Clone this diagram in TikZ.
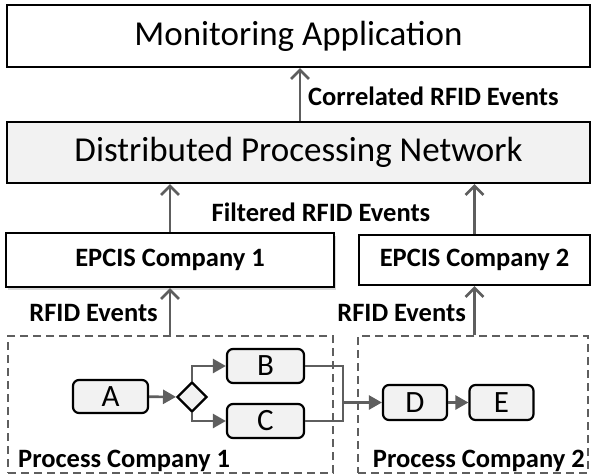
\documentclass[tikz,border=0pt]{standalone}
\usepackage{fontspec}
\setmainfont{Carlito}
\usetikzlibrary{arrows.meta,shapes.geometric,shadows}
\definecolor{boxgray}{HTML}{F2F2F2}
\definecolor{linegray}{HTML}{5E5E5E}
\tikzset{
  layer/.style={draw=black, line width=2.2pt, minimum width=583pt, inner sep=0pt, font=\fontsize{35}{40}\selectfont},
  epcis/.style={draw=black, fill=white, line width=2.2pt, inner sep=0pt, font=\bfseries\fontsize{26.5}{30}\selectfont},
  task/.style={draw=black, fill=boxgray, rounded corners=6pt, line width=2.2pt, inner sep=0pt, font=\fontsize{31}{34}\selectfont},
  pool/.style={draw=linegray, dash pattern=on 8pt off 5pt, line width=1.6pt, inner sep=0pt},
  flow/.style={-{Straight Barb[length=9pt,width=18pt,line width=2.6pt]}, draw=linegray, line width=2.8pt},
  seq/.style={-{Triangle[length=13pt,width=14pt]}, draw=linegray, line width=2.6pt},
  lbl/.style={font=\bfseries\fontsize{26.5}{30}\selectfont, inner sep=0pt}
}

\begin{document}
\begin{tikzpicture}[x=1pt, y=-1pt]
\useasboundingbox (0,0) rectangle (591,476);

% Layers
\node[layer, minimum height=62pt] (app) at (298.5,36) {Monitoring Application};
\node[layer, fill=boxgray, minimum height=61pt] (dpn) at (298.5,152.5) {Distributed Processing Network};
\node[epcis, minimum width=328pt, minimum height=54pt, drop shadow={opacity=0.3, shadow xshift=2pt, shadow yshift=-3pt}] (epc1) at (170,260) {EPCIS Company 1};
\node[epcis, minimum width=231pt, minimum height=50pt] (epc2) at (474.5,260) {EPCIS Company 2};

% Process pools
\node[pool, minimum width=325pt, minimum height=137pt] (pc1) at (170.5,404.5) {};
\node[pool, minimum width=230pt, minimum height=137pt] (pc2) at (473,404.5) {};
\node[lbl, anchor=base west] (pc1lbl) at (18,467) {Process Company 1};
\node[lbl, anchor=base east] (pc2lbl) at (585,467) {Process Company 2};

% Event flows
\coordinate (tapApp) at (300,0);
\draw[flow] (tapApp |- dpn.north) -- (tapApp |- app.south);
\node[lbl, anchor=west] (corr) at (308,96) {Correlated RFID Events};
\draw[flow] (epc1.north) -- (epc1.north |- dpn.south);
\draw[flow] (epc2.north) -- (epc2.north |- dpn.south);
\node[lbl] (filt) at (321,212) {Filtered RFID Events};
\draw[flow] (epc1.south |- pc1.north) -- (epc1.south);
\draw[flow] (epc2.south |- pc2.north) -- (epc2.south);
\node[lbl, anchor=east] (ev1) at (158,313) {RFID Events};
\node[lbl, anchor=east] (ev2) at (466,313) {RFID Events};

% Tasks
\node[task, minimum width=75pt, minimum height=33pt] (A) at (110.5,396.5) {A};
\node[diamond, draw=black, fill=boxgray, line width=2.2pt, minimum size=30pt, inner sep=0pt] (gw) at (192,397) {};
\node[task, minimum width=77pt, minimum height=34pt] (B) at (265.5,366) {B};
\node[task, minimum width=77pt, minimum height=34pt] (C) at (265.5,421) {C};
\node[task, minimum width=64pt, minimum height=35pt] (D) at (415,402.5) {D};
\node[task, minimum width=64pt, minimum height=35pt] (E) at (501.5,402.5) {E};

% Sequence flows
\coordinate (join) at (343,402.5);
\draw[seq] (A) -- (gw);
\draw[seq] (gw.north) |- (B);
\draw[seq] (gw.south) |- (C);
\draw[linegray, line width=2.6pt] (C) -| (join);
\draw[seq] (B) -| (join) -- (D);
\draw[seq] (D) -- (E);
\end{tikzpicture}
\end{document}
